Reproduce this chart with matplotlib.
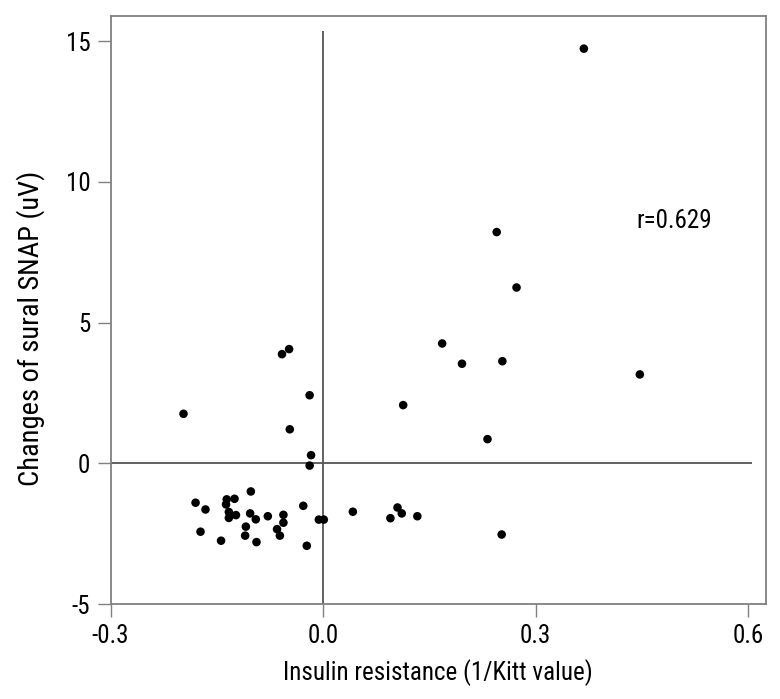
import matplotlib.pyplot as plt

# insulin resistance (1/Kitt value) vs change of sural SNAP (uV)
insulin_resistance = [
    0.368, 0.245, 0.273, 0.168, 0.196, 0.253, 0.447, 0.113, 0.232, 0.252,
    -0.058, -0.048, -0.197, -0.019, -0.047, -0.017, -0.019,
    -0.102, -0.180, -0.136, -0.125, -0.137, -0.166, -0.133, -0.123, -0.133,
    -0.103, -0.095, -0.078, -0.056, -0.056, -0.065, -0.061, -0.109, -0.110,
    -0.173, -0.144, -0.094, -0.023, -0.028, -0.006, 0.001, 0.042, 0.105,
    0.111, 0.095, 0.133,
]
sural_snap_change = [
    14.74, 8.22, 6.25, 4.26, 3.54, 3.63, 3.16, 2.07, 0.86, -2.53,
    3.88, 4.06, 1.76, 2.42, 1.21, 0.29, -0.08,
    -1.00, -1.40, -1.28, -1.26, -1.46, -1.64, -1.73, -1.84, -1.94,
    -1.78, -1.99, -1.88, -1.83, -2.11, -2.34, -2.57, -2.25, -2.57,
    -2.43, -2.75, -2.80, -2.93, -1.51, -2.00, -2.00, -1.72, -1.57,
    -1.78, -1.95, -1.88,
]
x_ticks = [-0.3, 0.0, 0.3, 0.6]
y_ticks = [-5, 0, 5, 10, 15]
r_value = 0.629

plt.rcParams["font.family"] = ["Roboto Condensed", "Liberation Sans Narrow",
                               "Roboto", "DejaVu Sans"]
plt.rcParams["axes.unicode_minus"] = False

fig = plt.figure(figsize=(7.8, 6.99), dpi=100)
ax = fig.add_axes([0.1417, 0.1359, 0.8403, 0.8412])

ax.set_xlim(-0.3, 0.625)
ax.set_ylim(-5, 15.9)

# zero reference lines
ax.vlines(0, -5, 15.36, color="#555555", linewidth=1.3, zorder=1)
ax.hlines(0, -0.3, 0.605, color="#555555", linewidth=1.3, zorder=1)

ax.scatter(insulin_resistance, sural_snap_change, s=38, color="black",
           edgecolors="none", zorder=3)

ax.text(0.442, 8.6, f"r={r_value}", fontsize=18, va="center", ha="left")

ax.set_xticks(x_ticks)
ax.set_xticklabels([f"{t:.1f}" for t in x_ticks])
ax.set_yticks(y_ticks)
ax.tick_params(direction="out", length=9.5, width=1, color="#808080",
               labelsize=18, pad=5)
for s in ax.spines.values():
    s.set_color("#808080")
    s.set_linewidth(1.3)

ax.set_xlabel("Insulin resistance (1/Kitt value)", fontsize=18, labelpad=8)
ax.set_ylabel("Changes of sural SNAP (uV)", fontsize=20.5)
ax.yaxis.set_label_coords(-0.100, 0.469)

fig.savefig("out.png", dpi=100)
